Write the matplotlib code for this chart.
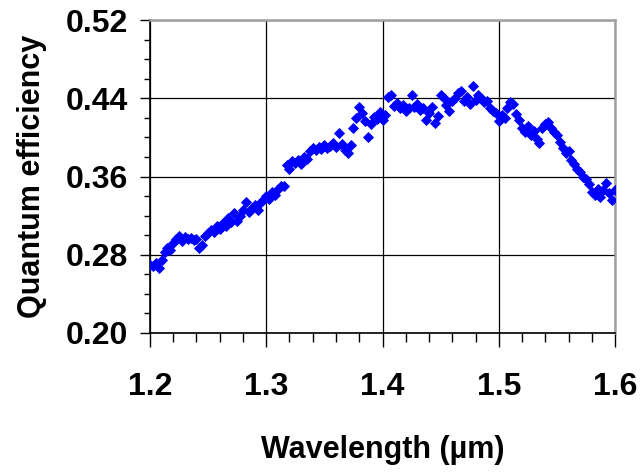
import matplotlib
matplotlib.use("Agg")
from matplotlib import pyplot as plt
from matplotlib.ticker import MultipleLocator

# measured quantum efficiency vs wavelength (um)
wavelength = [
    1.2000, 1.2025, 1.2050, 1.2075, 1.2100, 1.2125, 1.2150, 1.2175, 1.2200, 1.2225,
    1.2250, 1.2275, 1.2300, 1.2325, 1.2350, 1.2375, 1.2400, 1.2425, 1.2450, 1.2475,
    1.2500, 1.2525, 1.2550, 1.2575, 1.2600, 1.2625, 1.2650, 1.2675, 1.2700, 1.2725,
    1.2750, 1.2775, 1.2800, 1.2825, 1.2850, 1.2875, 1.2900, 1.2925, 1.2950, 1.2975,
    1.3000, 1.3025, 1.3050, 1.3075, 1.3100, 1.3125, 1.3150, 1.3175, 1.3200, 1.3225,
    1.3250, 1.3275, 1.3300, 1.3325, 1.3350, 1.3375, 1.3400, 1.3425, 1.3450, 1.3475,
    1.3500, 1.3525, 1.3550, 1.3575, 1.3600, 1.3625, 1.3650, 1.3675, 1.3700, 1.3725,
    1.3750, 1.3775, 1.3800, 1.3825, 1.3850, 1.3875, 1.3900, 1.3925, 1.3950, 1.3975,
    1.4000, 1.4025, 1.4050, 1.4075, 1.4100, 1.4125, 1.4150, 1.4175, 1.4200, 1.4225,
    1.4250, 1.4275, 1.4300, 1.4325, 1.4350, 1.4375, 1.4400, 1.4425, 1.4450, 1.4475,
    1.4500, 1.4525, 1.4550, 1.4575, 1.4600, 1.4625, 1.4650, 1.4675, 1.4700, 1.4725,
    1.4750, 1.4775, 1.4800, 1.4825, 1.4850, 1.4875, 1.4900, 1.4925, 1.4950, 1.4975,
    1.5000, 1.5025, 1.5050, 1.5075, 1.5100, 1.5125, 1.5150, 1.5175, 1.5200, 1.5225,
    1.5250, 1.5275, 1.5300, 1.5325, 1.5350, 1.5375, 1.5400, 1.5425, 1.5450, 1.5475,
    1.5500, 1.5525, 1.5550, 1.5575, 1.5600, 1.5625, 1.5650, 1.5675, 1.5700, 1.5725,
    1.5750, 1.5775, 1.5800, 1.5825, 1.5850, 1.5875, 1.5900, 1.5925, 1.5950, 1.5975,
    1.6000,
]
qe = [
    0.270, 0.268, 0.272, 0.266, 0.275, 0.283, 0.287, 0.285, 0.292, 0.296,
    0.299, 0.294, 0.298, 0.296, 0.297, 0.295, 0.296, 0.287, 0.290, 0.299,
    0.302, 0.305, 0.303, 0.309, 0.306, 0.312, 0.309, 0.318, 0.313, 0.323,
    0.315, 0.320, 0.326, 0.334, 0.324, 0.328, 0.331, 0.326, 0.333, 0.336,
    0.340, 0.337, 0.344, 0.341, 0.347, 0.350, 0.350, 0.372, 0.368, 0.376,
    0.374, 0.377, 0.373, 0.380, 0.378, 0.386, 0.389, 0.387, 0.390, 0.388,
    0.392, 0.389, 0.391, 0.394, 0.390, 0.404, 0.393, 0.387, 0.384, 0.392,
    0.410, 0.420, 0.431, 0.425, 0.417, 0.400, 0.414, 0.421, 0.419, 0.426,
    0.418, 0.423, 0.441, 0.443, 0.432, 0.435, 0.430, 0.433, 0.427, 0.430,
    0.443, 0.431, 0.434, 0.428, 0.430, 0.418, 0.425, 0.431, 0.415, 0.422,
    0.443, 0.440, 0.433, 0.427, 0.437, 0.440, 0.445, 0.447, 0.437, 0.441,
    0.434, 0.453, 0.438, 0.443, 0.440, 0.436, 0.437, 0.430, 0.427, 0.425,
    0.417, 0.423, 0.420, 0.430, 0.436, 0.434, 0.424, 0.418, 0.410, 0.405,
    0.412, 0.402, 0.407, 0.398, 0.394, 0.410, 0.414, 0.416, 0.410, 0.405,
    0.402, 0.395, 0.389, 0.384, 0.386, 0.377, 0.373, 0.368, 0.365, 0.360,
    0.357, 0.352, 0.344, 0.341, 0.347, 0.339, 0.346, 0.353, 0.343, 0.336,
    0.346,
]
x_ticks = [1.2, 1.3, 1.4, 1.5, 1.6]
y_ticks = [0.20, 0.28, 0.36, 0.44, 0.52]

plt.rcParams['font.family'] = ['Liberation Sans', 'DejaVu Sans']
plt.rcParams['font.weight'] = 'bold'

fig = plt.figure(figsize=(6.44, 4.72), dpi=100)
ax = fig.add_axes([0.2329, 0.2945, 0.7221, 0.6631])

ax.plot(wavelength, qe, linestyle='none', marker='D', markersize=5.6,
        color='#0000ff', markeredgewidth=0.6, zorder=3)

ax.set_xlim(1.2, 1.6)
ax.set_ylim(0.20, 0.52)
ax.set_xticks(x_ticks)
ax.set_yticks(y_ticks)
ax.xaxis.set_minor_locator(MultipleLocator(0.02))
ax.yaxis.set_minor_locator(MultipleLocator(0.02))
ax.set_xticklabels([f"{v:.1f}" for v in x_ticks])
ax.set_yticklabels([f"{v:.2f}" for v in y_ticks])

ax.grid(True, which='major', color='black', linewidth=0.9)
ax.set_axisbelow(True)

for side in ('left', 'bottom'):
    ax.spines[side].set_color('black')
    ax.spines[side].set_linewidth(1.2)
for side in ('top', 'right'):
    ax.spines[side].set_color('#a0a0a0')
    ax.spines[side].set_linewidth(1.8)

ax.tick_params(axis='x', which='major', direction='out', length=10, width=1.0,
               pad=18, labelsize=23)
ax.tick_params(axis='x', which='minor', direction='out', length=6.5, width=1.0)
ax.tick_params(axis='y', which='major', direction='out', length=7.5, width=1.0,
               pad=8, labelsize=23)
ax.tick_params(axis='y', which='minor', direction='out', length=4, width=1.0)

ax.set_xlabel("Wavelength (\u00b5m)", fontsize=22, fontweight='bold', labelpad=24)
ax.set_ylabel("Quantum efficiency", fontsize=22, fontweight='bold', labelpad=14)

fig.savefig("out.png", dpi=100)
